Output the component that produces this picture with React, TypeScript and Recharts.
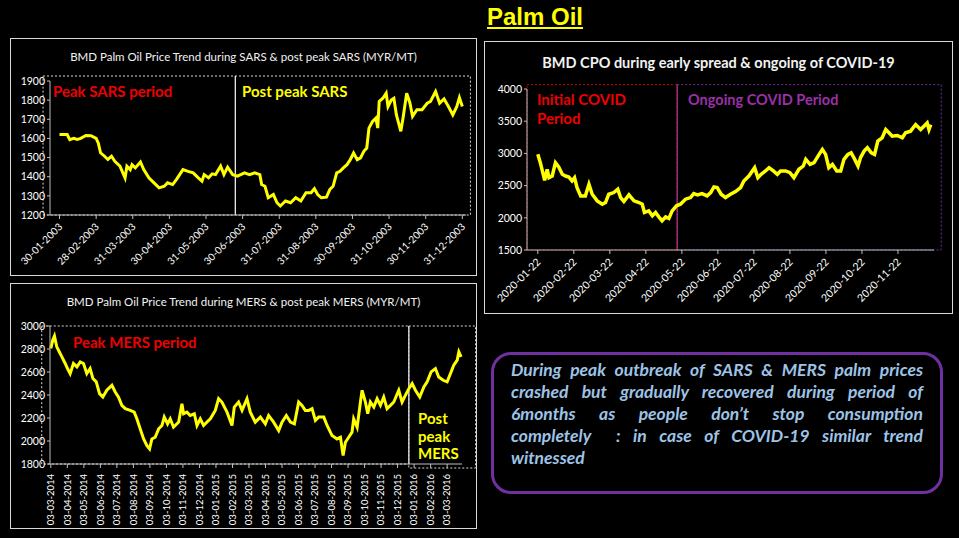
import React from "react";
import { LineChart, Line, XAxis, YAxis, ReferenceArea, ReferenceLine } from "recharts";

// ─── Data ─────────────────────────────────────────────────────────────────────
const sarsTickLabels = [
  "30-01-2003", "28-02-2003", "31-03-2003", "30-04-2003", "31-05-2003", "30-06-2003",
  "31-07-2003", "31-08-2003", "30-09-2003", "31-10-2003", "30-11-2003", "31-12-2003",
];
// month offset from 30-01-2003
const sarsMonth = [
  0.0, 0.21, 0.28, 0.39, 0.48, 0.58, 0.72, 0.86, 1.0, 1.06,
  1.12, 1.23, 1.32, 1.42, 1.51, 1.65, 1.79, 1.84, 1.93, 1.98,
  2.07, 2.21, 2.3, 2.44, 2.58, 2.72, 2.86, 2.95, 3.09, 3.19,
  3.28, 3.37, 3.51, 3.65, 3.79, 3.89, 3.95, 4.07, 4.17, 4.26,
  4.4, 4.49, 4.59, 4.73, 4.86, 5.05, 5.19, 5.33, 5.47, 5.52,
  5.61, 5.7, 5.84, 5.94, 6.03, 6.17, 6.31, 6.45, 6.59, 6.73,
  6.87, 6.96, 7.05, 7.15, 7.29, 7.38, 7.47, 7.57, 7.66, 7.75,
  7.85, 7.94, 8.03, 8.13, 8.22, 8.31, 8.39, 8.45, 8.55, 8.64,
  8.69, 8.73, 8.83, 8.92, 8.97, 9.06, 9.13, 9.2, 9.32, 9.38,
  9.48, 9.57, 9.64, 9.76, 9.9, 10.04, 10.13, 10.27, 10.38, 10.5,
  10.62, 10.74, 10.85, 10.92, 11.0,
];
const sarsPrice = [
  1620, 1620, 1593, 1600, 1595, 1600, 1615, 1614, 1600, 1575,
  1525, 1507, 1490, 1507, 1480, 1455, 1394, 1455, 1437, 1463,
  1446, 1477, 1437, 1394, 1368, 1342, 1350, 1368, 1359, 1385,
  1411, 1437, 1428, 1420, 1394, 1377, 1411, 1394, 1415, 1411,
  1455, 1411, 1450, 1411, 1403, 1420, 1411, 1420, 1411, 1359,
  1350, 1290, 1307, 1264, 1247, 1273, 1264, 1290, 1273, 1316,
  1316, 1338, 1307, 1290, 1293, 1333, 1350, 1420, 1428, 1446,
  1463, 1489, 1524, 1489, 1498, 1533, 1550, 1654, 1689, 1706,
  1654, 1793, 1810, 1836, 1767, 1801, 1810, 1723, 1637, 1706,
  1836, 1784, 1715, 1750, 1750, 1784, 1793, 1845, 1784, 1806,
  1767, 1723, 1767, 1813, 1767,
];
const sarsYTicks = [1200, 1300, 1400, 1500, 1600, 1700, 1800, 1900];

const covidTickLabels = [
  "2020-01-22", "2020-02-22", "2020-03-22", "2020-04-22", "2020-05-22", "2020-06-22",
  "2020-07-22", "2020-08-22", "2020-09-22", "2020-10-22", "2020-11-22",
];
// month offset from 2020-01-22
const covidMonth = [
  0.0, 0.07, 0.15, 0.19, 0.26, 0.31, 0.4, 0.49, 0.58, 0.68,
  0.77, 0.86, 0.95, 1.02, 1.09, 1.19, 1.32, 1.42, 1.51, 1.65,
  1.79, 1.88, 1.97, 2.11, 2.22, 2.3, 2.39, 2.53, 2.67, 2.81,
  2.9, 2.96, 3.08, 3.18, 3.27, 3.36, 3.45, 3.55, 3.64, 3.73,
  3.85, 3.96, 4.1, 4.24, 4.33, 4.43, 4.56, 4.7, 4.8, 4.89,
  4.98, 5.09, 5.21, 5.35, 5.49, 5.63, 5.72, 5.86, 6.02, 6.11,
  6.2, 6.32, 6.42, 6.54, 6.65, 6.74, 6.88, 7.0, 7.11, 7.25,
  7.37, 7.44, 7.56, 7.67, 7.81, 7.9, 7.99, 8.08, 8.18, 8.3,
  8.41, 8.5, 8.61, 8.7, 8.8, 8.89, 8.96, 9.06, 9.15, 9.26,
  9.35, 9.44, 9.56, 9.66, 9.75, 9.84, 9.98, 10.12, 10.21, 10.35,
  10.49, 10.63, 10.72, 10.81, 10.86, 10.91,
];
const covidPrice = [
  2985, 2856, 2675, 2582, 2753, 2624, 2649, 2856, 2789, 2675,
  2649, 2634, 2572, 2624, 2469, 2340, 2340, 2521, 2366, 2263,
  2211, 2237, 2366, 2392, 2443, 2314, 2253, 2356, 2263, 2237,
  2211, 2082, 2108, 2031, 2082, 2015, 1954, 2015, 1990, 2108,
  2186, 2211, 2289, 2314, 2376, 2356, 2376, 2340, 2392, 2479,
  2469, 2366, 2314, 2366, 2407, 2469, 2572, 2649, 2778, 2624,
  2675, 2727, 2778, 2727, 2675, 2727, 2727, 2701, 2624, 2753,
  2804, 2907, 2830, 2856, 2985, 3062, 2985, 2778, 2830, 2727,
  2727, 2907, 2985, 3010, 2907, 2804, 2933, 3036, 3088, 3010,
  2985, 3191, 3242, 3371, 3320, 3268, 3278, 3242, 3320, 3345,
  3448, 3371, 3423, 3474, 3371, 3448,
];
const covidYTicks = [1500, 2000, 2500, 3000, 3500, 4000];

const mersTickLabels = [
  "03-03-2014", "03-04-2014", "03-05-2014", "03-06-2014", "03-07-2014", "03-08-2014",
  "03-09-2014", "03-10-2014", "03-11-2014", "03-12-2014", "03-01-2015", "03-02-2015",
  "03-03-2015", "03-04-2015", "03-05-2015", "03-06-2015", "03-07-2015", "03-08-2015",
  "03-09-2015", "03-10-2015", "03-11-2015", "03-12-2015", "03-01-2016", "03-02-2016",
  "03-03-2016",
];
// month offset from 03-03-2014
const mersMonth = [
  0.0, 0.12, 0.22, 0.36, 0.51, 0.67, 0.87, 1.01, 1.17, 1.37,
  1.58, 1.78, 1.98, 2.18, 2.38, 2.55, 2.75, 2.95, 3.15, 3.39,
  3.7, 3.9, 4.1, 4.3, 4.51, 4.81, 5.05, 5.21, 5.41, 5.62,
  5.82, 5.98, 6.12, 6.32, 6.53, 6.73, 6.87, 7.07, 7.23, 7.43,
  7.74, 7.94, 8.04, 8.24, 8.44, 8.69, 8.85, 9.05, 9.25, 9.45,
  9.66, 9.96, 10.16, 10.36, 10.67, 10.97, 11.11, 11.37, 11.58, 11.88,
  12.08, 12.38, 12.69, 12.99, 13.19, 13.49, 13.8, 14.0, 14.26, 14.51,
  14.75, 15.01, 15.21, 15.41, 15.62, 15.82, 16.02, 16.22, 16.53, 16.73,
  17.03, 17.33, 17.54, 17.7, 17.84, 18.04, 18.24, 18.34, 18.55, 18.75,
  18.85, 19.05, 19.19, 19.35, 19.56, 19.76, 19.96, 20.16, 20.36, 20.57,
  20.77, 21.07, 21.27, 21.47, 21.68, 21.88, 22.08, 22.34, 22.59, 22.79,
  23.03, 23.29, 23.49, 23.76, 24.0, 24.2, 24.4, 24.61, 24.71, 24.85,
];
const mersPrice = [
  2805, 2878, 2913, 2819, 2776, 2732, 2674, 2630, 2586, 2674,
  2645, 2688, 2674, 2586, 2630, 2543, 2514, 2412, 2382, 2441,
  2484, 2426, 2382, 2310, 2281, 2266, 2251, 2193, 2106, 2018,
  1960, 1931, 2018, 2033, 2106, 2135, 2208, 2149, 2193, 2120,
  2164, 2324, 2237, 2251, 2222, 2237, 2135, 2193, 2135, 2164,
  2193, 2266, 2368, 2339, 2251, 2135, 2295, 2339, 2266, 2368,
  2251, 2164, 2208, 2149, 2222, 2164, 2091, 2164, 2222, 2164,
  2149, 2339, 2310, 2266, 2266, 2281, 2179, 2208, 2208, 2135,
  2047, 2018, 2033, 1873, 1989, 2033, 2077, 2193, 2120, 2339,
  2441, 2339, 2237, 2339, 2295, 2368, 2310, 2382, 2281, 2310,
  2339, 2441, 2339, 2397, 2455, 2499, 2441, 2382, 2470, 2514,
  2601, 2630, 2557, 2528, 2514, 2586, 2659, 2703, 2776, 2732,
];
const mersYTicks = [1800, 2000, 2200, 2400, 2600, 2800, 3000];

const noteLines = [
  "During peak outbreak of SARS & MERS palm prices",
  "crashed but gradually recovered during period of",
  "6months as people don\u2019t stop consumption",
  "completely  : in case of COVID-19 similar trend",
  "witnessed",
];

// ─── Helpers ──────────────────────────────────────────────────────────────────
const FONT = "Lato, 'Open Sans', sans-serif";
const AXIS = "#bfbfbf";

const zip = (xs: number[], ys: number[]) => xs.map((m, i) => ({ m, p: ys[i] }));

function SlantTick(props: any) {
  const { x, y, payload, labels, angle, fontSize, dx = 0, dy = 0 } = props;
  const label = labels[Math.round(payload.value)] ?? "";
  return (
    <g transform={`translate(${x + dx},${y + dy})`}>
      <text
        textAnchor="end"
        transform={`rotate(${angle})`}
        dy="0.35em"
        fill="#ffffff"
        fontSize={fontSize}
        fontFamily={FONT}
      >
        {label}
      </text>
    </g>
  );
}

function Frame({ left, top, width, height }: { left: number; top: number; width: number; height: number }) {
  return (
    <div
      style={{
        position: "absolute",
        left,
        top,
        width,
        height,
        boxSizing: "border-box",
        border: "1px solid #d9d9d9",
      }}
    />
  );
}

function Label({ left, top, color, size = 15, lh = 18, children }: any) {
  return (
    <div
      style={{
        position: "absolute",
        left,
        top,
        color,
        fontFamily: FONT,
        fontWeight: 700,
        fontSize: size,
        lineHeight: `${lh}px`,
        whiteSpace: "pre",
      }}
    >
      {children}
    </div>
  );
}

function Title({ left, top, width, bold, size, children }: any) {
  return (
    <div
      style={{
        position: "absolute",
        left,
        top,
        width,
        textAlign: "center",
        color: "#f2f2f2",
        fontFamily: FONT,
        fontWeight: bold ? 700 : 400,
        fontSize: size,
        lineHeight: "16px",
        whiteSpace: "nowrap",
      }}
    >
      {children}
    </div>
  );
}

// ─── Charts ───────────────────────────────────────────────────────────────────
function SarsChart() {
  const data = zip(sarsMonth, sarsPrice);
  return (
    <div style={{ position: "absolute", left: 10, top: 38 }}>
      <LineChart width={467} height={238} data={data} margin={{ top: 43, right: 11, bottom: 6, left: 10 }}>
        <XAxis
          type="number"
          dataKey="m"
          domain={[-0.26, 11.1]}
          ticks={sarsTickLabels.map((_, i) => i)}
          interval={0}
          height={55}
          stroke={AXIS}
          tickSize={4}
          tick={(p: any) => <SlantTick {...p} labels={sarsTickLabels} angle={-45} fontSize={10} dx={1} dy={4} />}
        />
        <YAxis
          type="number"
          domain={[1200, 1900]}
          ticks={sarsYTicks}
          width={30}
          stroke={AXIS}
          tickSize={3}
          tick={{ fill: "#ffffff", fontSize: 10.5, fontFamily: FONT }}
        />
        <ReferenceArea
          x1={-0.45}
          x2={11.22}
          y1={1200}
          y2={1926}
          fill="none"
          stroke="#d9d9d9"
          strokeDasharray="2 2"
          ifOverflow="visible"
        />
        <ReferenceLine
          segment={[{ x: 4.8, y: 1200 }, { x: 4.8, y: 1926 }]}
          stroke="#ffffff"
          strokeWidth={1.2}
          ifOverflow="visible"
        />
        <Line
          type="linear"
          dataKey="p"
          stroke="#ffff00"
          strokeWidth={3}
          dot={false}
          isAnimationActive={false}
        />
      </LineChart>
    </div>
  );
}

function CovidChart() {
  const data = zip(covidMonth, covidPrice);
  return (
    <div style={{ position: "absolute", left: 484, top: 41 }}>
      <LineChart width={469} height={273} data={data} margin={{ top: 48, right: 19, bottom: 6, left: 13 }}>
        <XAxis
          type="number"
          dataKey="m"
          domain={[-0.3, 11.0]}
          ticks={covidTickLabels.map((_, i) => i)}
          interval={0}
          height={58}
          stroke={AXIS}
          tickSize={4}
          tick={(p: any) => <SlantTick {...p} labels={covidTickLabels} angle={-45} fontSize={10.5} dx={1} dy={4} />}
        />
        <YAxis
          type="number"
          domain={[1500, 4000]}
          ticks={covidYTicks}
          width={30}
          stroke={AXIS}
          tickSize={3}
          tick={{ fill: "#ffffff", fontSize: 10.5, fontFamily: FONT }}
        />
        <ReferenceArea
          x1={-0.3}
          x2={3.87}
          y1={1500}
          y2={4068}
          fill="none"
          stroke="#c00000"
          strokeDasharray="2 2"
          ifOverflow="visible"
        />
        <ReferenceArea
          x1={3.87}
          x2={11.2}
          y1={1500}
          y2={4068}
          fill="none"
          stroke="#7030a0"
          strokeDasharray="2 2"
          ifOverflow="visible"
        />
        <ReferenceLine
          segment={[{ x: 3.87, y: 1500 }, { x: 3.87, y: 4068 }]}
          stroke="#b0307f"
          strokeWidth={1.2}
          ifOverflow="visible"
        />
        <Line
          type="linear"
          dataKey="p"
          stroke="#ffff00"
          strokeWidth={3.5}
          dot={false}
          isAnimationActive={false}
        />
      </LineChart>
    </div>
  );
}

function MersChart() {
  const data = zip(mersMonth, mersPrice);
  return (
    <div style={{ position: "absolute", left: 10, top: 283 }}>
      <LineChart width={467} height={246} data={data} margin={{ top: 43, right: 15, bottom: 5, left: 10 }}>
        <XAxis
          type="number"
          dataKey="m"
          domain={[-0.05, 24.9]}
          ticks={mersTickLabels.map((_, i) => i)}
          interval={0}
          height={60}
          stroke={AXIS}
          tickSize={4}
          tick={(p: any) => <SlantTick {...p} labels={mersTickLabels} angle={-90} fontSize={9.5} dx={0} dy={4} />}
        />
        <YAxis
          type="number"
          domain={[1800, 3000]}
          ticks={mersYTicks}
          width={30}
          stroke={AXIS}
          tickSize={3}
          tick={{ fill: "#ffffff", fontSize: 10.5, fontFamily: FONT }}
        />
        <ReferenceArea
          x1={-0.55}
          x2={21.68}
          y1={1800}
          y2={3000}
          fill="none"
          stroke="#d9d9d9"
          strokeDasharray="2 2"
          ifOverflow="visible"
        />
        <ReferenceArea
          x1={21.68}
          x2={25.72}
          y1={1765}
          y2={3000}
          fill="none"
          stroke="#d9d9d9"
          strokeDasharray="2 2"
          ifOverflow="visible"
        />
        <ReferenceLine
          segment={[{ x: 21.68, y: 1800 }, { x: 21.68, y: 3000 }]}
          stroke="#d9d9d9"
          strokeWidth={1.2}
          ifOverflow="visible"
        />
        <Line
          type="linear"
          dataKey="p"
          stroke="#ffff00"
          strokeWidth={3}
          dot={false}
          isAnimationActive={false}
        />
      </LineChart>
    </div>
  );
}

// ─── Page ─────────────────────────────────────────────────────────────────────
export default function App() {
  return (
    <div
      style={{
        position: "fixed",
        left: 0,
        top: 0,
        width: 959,
        height: 538,
        background: "#000000",
        overflow: "hidden",
      }}
    >
      <div
        style={{
          position: "absolute",
          left: 487,
          top: 3,
          color: "#ffff00",
          fontFamily: "'Liberation Sans', Arial, sans-serif",
          fontWeight: 700,
          fontSize: 24,
          lineHeight: "28px",
          textDecoration: "underline",
          textDecorationColor: "#ffff00",
        }}
      >
        Palm Oil
      </div>

      {/* SARS panel */}
      <Frame left={10} top={38} width={467} height={238} />
      <Title left={10} top={49} width={467} size={11.5}>
        BMD Palm Oil Price Trend during SARS &amp; post peak SARS (MYR/MT)
      </Title>
      <SarsChart />
      <Label left={53} top={82} color="#ee0000">Peak SARS period</Label>
      <Label left={242} top={82} color="#ffff00">Post peak SARS</Label>

      {/* COVID panel */}
      <Frame left={484} top={41} width={469} height={273} />
      <Title left={484} top={55} width={469} size={14.5} bold>
        BMD CPO during early spread &amp; ongoing of COVID-19
      </Title>
      <CovidChart />
      <Label left={537} top={90} color="#ee0000" lh={19}>{"Initial COVID\nPeriod"}</Label>
      <Label left={688} top={90} color="#9b30a8" size={14.5} lh={19}>Ongoing COVID Period</Label>

      {/* MERS panel */}
      <Frame left={10} top={283} width={467} height={246} />
      <Title left={10} top={294} width={467} size={11.5}>
        BMD Palm Oil Price Trend during MERS &amp; post peak MERS (MYR/MT)
      </Title>
      <MersChart />
      <Label left={73} top={333} color="#ee0000">Peak MERS period</Label>
      <Label left={418} top={410} color="#ffff00" lh={17.5}>{"Post\npeak\nMERS"}</Label>

      {/* Note box */}
      <div
        style={{
          position: "absolute",
          left: 491,
          top: 352,
          width: 452,
          height: 142,
          boxSizing: "border-box",
          border: "3px solid #7030a0",
          borderRadius: 20,
        }}
      />
      <div
        style={{
          position: "absolute",
          left: 511,
          top: 359,
          width: 412,
          color: "#9dc3e6",
          fontFamily: FONT,
          fontWeight: 700,
          fontStyle: "italic",
          fontSize: 17.5,
          lineHeight: "22px",
        }}
      >
        {noteLines.map((line, i) => (
          <div
            key={i}
            style={{
              textAlign: "justify",
              textAlignLast: i < noteLines.length - 1 ? "justify" : "left",
              whiteSpace: "pre-wrap",
            }}
          >
            {line}
          </div>
        ))}
      </div>
    </div>
  );
}
